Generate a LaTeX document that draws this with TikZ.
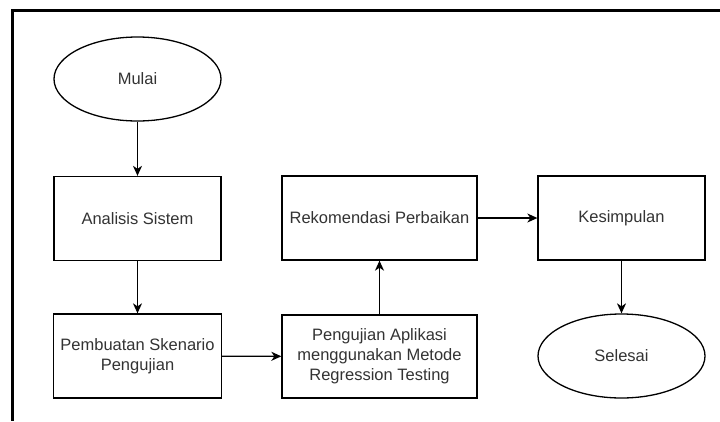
\documentclass[tikz,border=0pt]{standalone}
\usepackage{fontspec}
\setmainfont{Liberation Sans}
\usetikzlibrary{shapes.geometric,arrows.meta}
\definecolor{txt}{HTML}{333333}
\tikzset{
  base/.style={draw=black, line width=1.3pt, inner sep=0pt, align=center, text=txt,
    font=\fontsize{16.5}{20}\selectfont},
  box/.style={base, rectangle, minimum height=84pt},
  oval/.style={base, ellipse, minimum width=167pt, minimum height=84pt},
  conn/.style={line width=1.3pt, -{Stealth[length=10pt,width=9pt,inset=3pt]}},
  frameline/.style={line width=3pt}
}
\begin{document}
\begin{tikzpicture}[x=1pt,y=-1pt]
\useasboundingbox (0,0) rectangle (720,421);
\fill[white] (0,0) rectangle (720,421);
\coordinate (fa) at (720,10);
\coordinate (fb) at (12,10);
\coordinate (fc) at (12,421);
\draw[frameline] (fa) -- (fb) -- (fc);

\node[oval] (mulai) at (137.5,79) {Mulai};
\node[box, minimum width=167pt] (analisis) at (137.5,218.5) {Analisis Sistem};
\node[box, minimum width=168pt] (pembuatan) at (137.5,356) {Pembuatan Skenario\\Pengujian};
\node[box, minimum width=195pt, minimum height=83pt] (pengujian) at (379.5,356.5) {Pengujian Aplikasi\\menggunakan Metode\\Regression Testing};
\node[box, minimum width=195pt] (rekomendasi) at (379.5,218) {Rekomendasi Perbaikan};
\node[box, minimum width=167pt] (kesimpulan) at (621.5,218) {Kesimpulan};
\node[oval] (selesai) at (621.5,356) {Selesai};

\draw[conn] (mulai) -- (analisis);
\draw[conn] (analisis) -- (pembuatan);
\draw[conn] (pembuatan) -- (pengujian);
\draw[conn] (pengujian) -- (rekomendasi);
\draw[conn] (rekomendasi) -- (kesimpulan);
\draw[conn] (kesimpulan) -- (selesai);
\end{tikzpicture}
\end{document}
